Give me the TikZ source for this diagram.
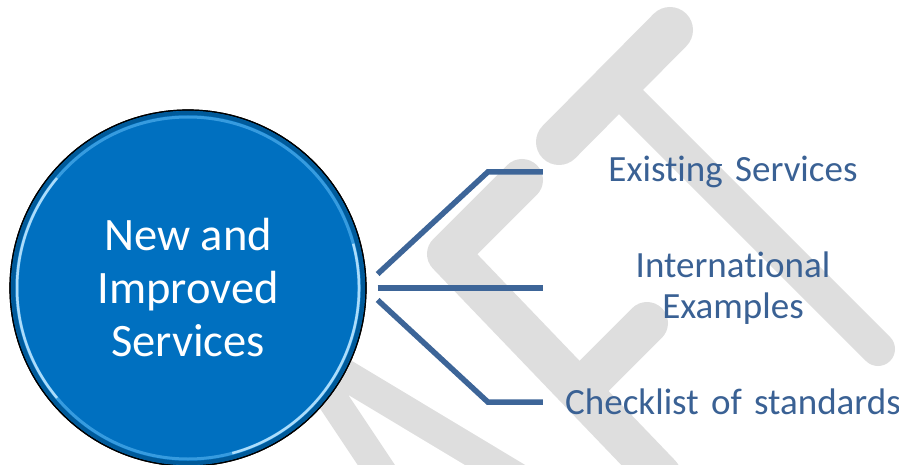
\documentclass[tikz,border=0pt]{standalone}
\usepackage{fontspec}
\setmainfont{Carlito}[Ligatures=NoCommon]
\usetikzlibrary{positioning}

\definecolor{hubblue}{HTML}{0070C0}
\definecolor{rimblue}{HTML}{5AB8F5}
\definecolor{linkblue}{HTML}{3D6598}
\definecolor{textblue}{HTML}{3A6194}
\definecolor{wmgrey}{HTML}{DEDEDE}

\begin{document}
\begin{tikzpicture}[
  x=1pt, y=-1pt,
  hub/.style={
     circle,
     fill=hubblue,
     draw=black,
     line width=1.2pt,
     minimum size=356pt,
     inner sep=0pt,
     text=white,
     align=center,
     font=\fontsize{46.5}{53}\selectfont
  },
  itembox/.style={
     text width=380pt,
     inner sep=0pt,
     align=center,
     text=textblue,
     font=\fontsize{37}{41}\selectfont
  },
  link/.style={draw=linkblue, line width=5.5pt},
  wm/.style={draw=wmgrey, line cap=round, line join=round}
]
   \useasboundingbox (0,0) rectangle (899,465);
   \clip (0,0) rectangle (899,465);

   % The watermark strokes behind everything
   \draw[wm, line width=46pt] (559,142) -- (670,30);
   \draw[wm, line width=34pt] (615,86) -- (878,349);
   \draw[wm, line width=42pt] (522,180) -- (448,254) -- (660,475);
   \draw[wm, line width=42pt] (580,390) -- (647,323);
   \draw[wm, line width=31pt, line join=miter] (413,520) -- (297,346) -- (600,528);

   % The hub with its rim
   \node[hub] (hub) at (188,288) {New and\\Improved\\Services};
   \draw[hubblue!80!black, line width=4pt] (hub.center) circle (175pt);
   \draw[rimblue, line width=3pt, opacity=.6] (hub.center) circle (171pt);
   \draw[rimblue!50!white, line width=2.5pt] ([shift={(140:171pt)}]hub.center) arc (140:220:171pt);
   \draw[rimblue!50!white, line width=2.5pt] ([shift={(-75:171pt)}]hub.center) arc (-75:15:171pt);
   \draw[line width=1.2pt] (hub.center) circle (178pt);

   % The items
   \node[itembox] (ex) at (733,172) {Existing Services};
   \node[itembox] (intl) at (733,288) {International\\Examples};
   \node[itembox] (chk) at (733,402) {Checklist of standards};

   % The connecting lines
   \coordinate (s1) at ([shift={(11pt,14pt)}]hub.east);
   \coordinate (s2) at ([xshift=11pt]hub.east);
   \coordinate (s3) at ([shift={(11pt,-12pt)}]hub.east);
   \draw[link] (s1) -- ([xshift=-55pt]ex.west) -- (ex.west);
   \draw[link] (s2) -- (intl.west);
   \draw[link] (s3) -- ([xshift=-55pt]chk.west) -- (chk.west);
\end{tikzpicture}
\end{document}
